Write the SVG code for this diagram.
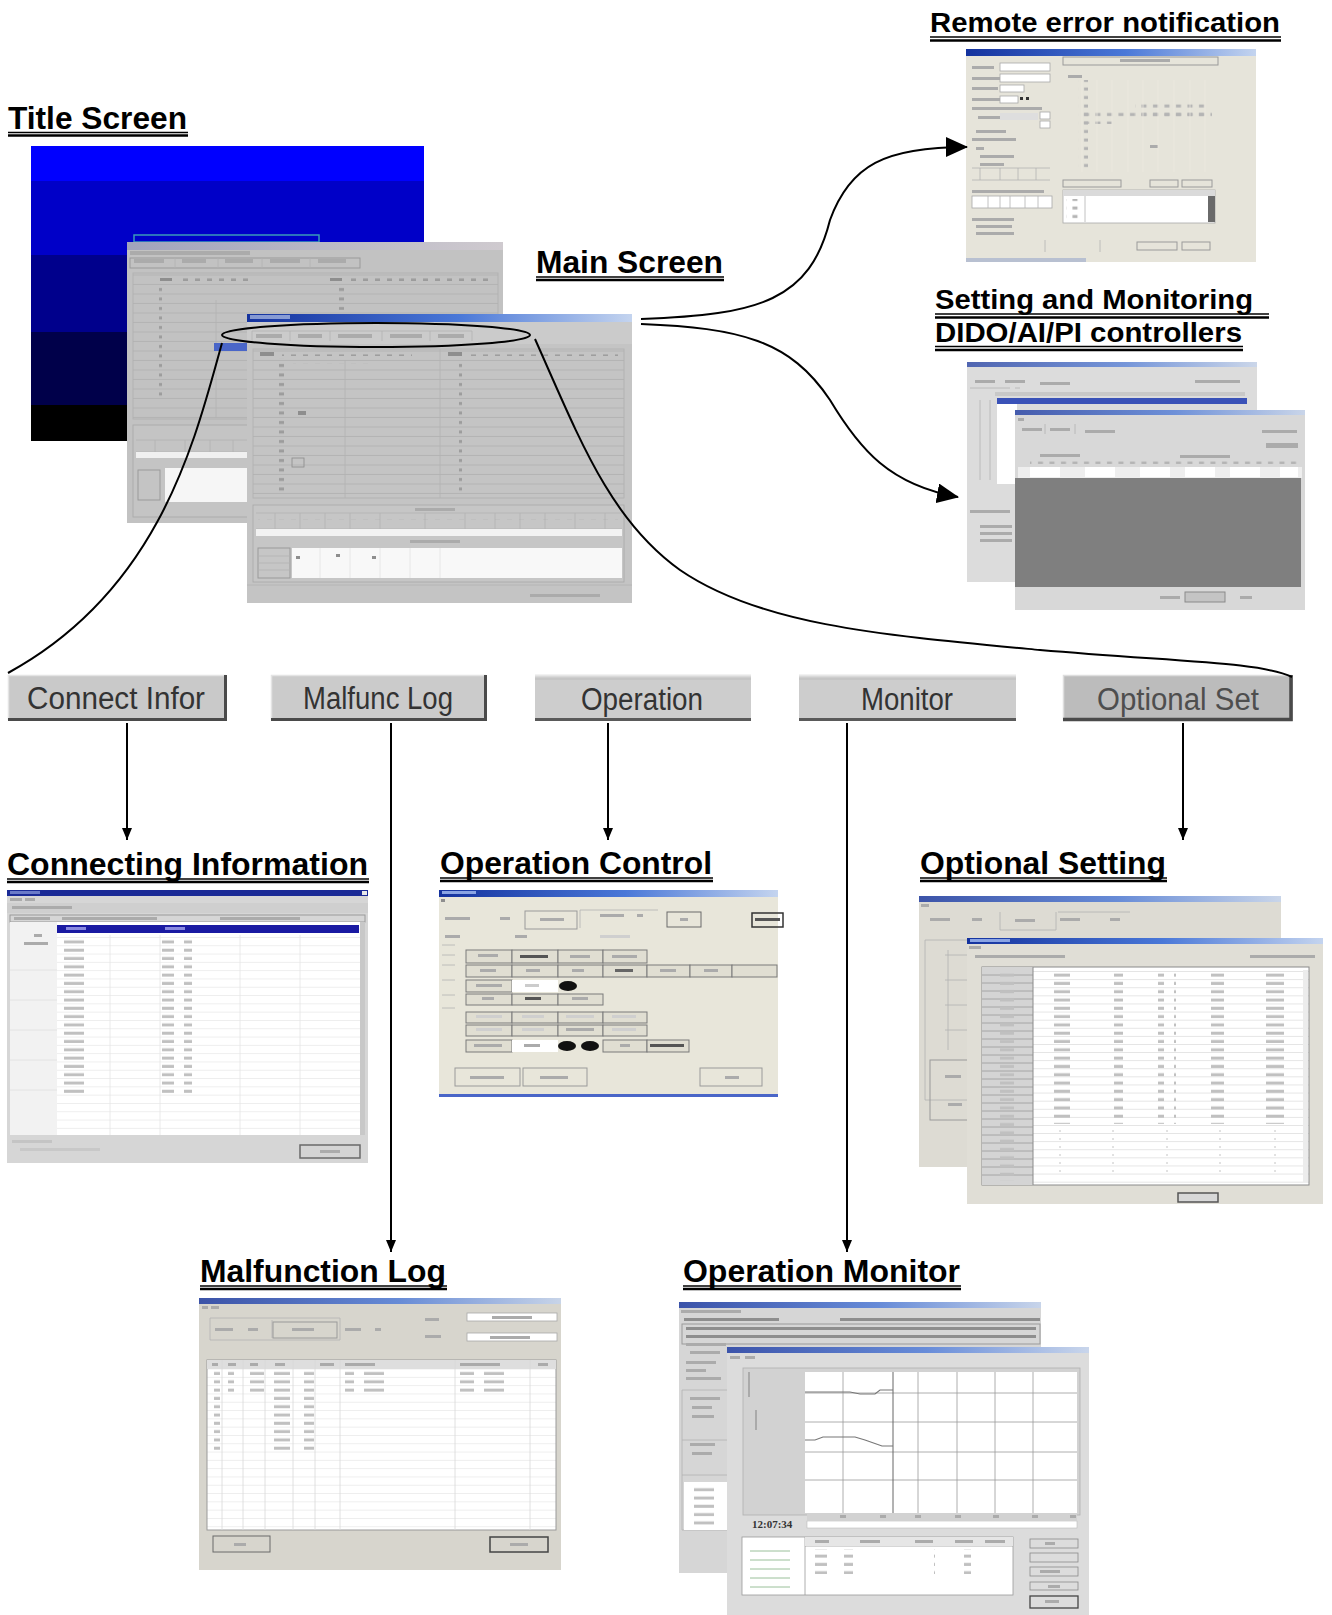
<svg xmlns="http://www.w3.org/2000/svg" width="1332" height="1615" viewBox="0 0 1332 1615">
<defs>
<style>
.h{font-family:"Liberation Sans",Arial,sans-serif;font-weight:bold;font-size:31px;fill:#000}
.hs{font-family:"Liberation Sans",Arial,sans-serif;font-weight:bold;font-size:27px;fill:#000}
.u1{stroke:#000;stroke-width:1.3}
.u2{stroke:#000;stroke-width:2.4}
.bt{font-family:"Liberation Sans",Arial,sans-serif;font-size:31px;fill:#333}
.con{fill:none;stroke:#000;stroke-width:2}
.m{fill:#8e8e8e}
.ml{fill:#ababab}
.ln{stroke:#b2b2b2;stroke-width:0.8;fill:none}
.bx{fill:none;stroke:#9a9a9a;stroke-width:1}
.wb{fill:#fff;stroke:#a8a8a8;stroke-width:0.8}
.tm{font-family:"Liberation Serif","Times New Roman",serif;font-weight:bold;font-size:11px;fill:#333}
</style>
<linearGradient id="tb" x1="0" x2="1" y1="0" y2="0"><stop offset="0" stop-color="#14329e"/><stop offset="0.55" stop-color="#4a78d8"/><stop offset="1" stop-color="#c4d4ef"/></linearGradient>
<linearGradient id="tbf" x1="0" x2="1" y1="0" y2="0"><stop offset="0" stop-color="#8a8fb8"/><stop offset="1" stop-color="#d8d0d8"/></linearGradient>
<pattern id="hl" width="20" height="9.5" patternUnits="userSpaceOnUse"><path d="M0 9H20" stroke="#b0b0b0" stroke-width="0.8"/></pattern>
<pattern id="dt" width="12" height="9.5" patternUnits="userSpaceOnUse"><rect x="3" y="3" width="5" height="3" fill="#9c9c9c"/></pattern>
<pattern id="dtw" width="11.5" height="8.5" patternUnits="userSpaceOnUse"><rect x="3" y="2.5" width="5" height="3" fill="#b4b4b4"/></pattern>
<pattern id="wr" width="40" height="8.3" patternUnits="userSpaceOnUse"><rect width="40" height="8.3" fill="#fff"/><path d="M0 8H40" stroke="#e4e4e4" stroke-width="0.8"/></pattern>
<pattern id="wr2" width="40" height="8.1" patternUnits="userSpaceOnUse"><rect width="40" height="8.1" fill="#fff"/><path d="M0 7.8H40" stroke="#d8d8d8" stroke-width="0.8"/></pattern>
<pattern id="cm" width="30" height="8.3" patternUnits="userSpaceOnUse"><rect x="4" y="2.5" width="20" height="3" fill="#c0c0c0"/></pattern>
<marker id="ab" viewBox="0 0 22 20" refX="21" refY="10" markerWidth="22" markerHeight="20" markerUnits="userSpaceOnUse" orient="auto"><path d="M0,0L22,10L0,20z" fill="#000"/></marker>
<marker id="as" viewBox="0 0 12 10" refX="12" refY="5" markerWidth="12" markerHeight="10" markerUnits="userSpaceOnUse" orient="auto"><path d="M0,0L12,5L0,10z" fill="#000"/></marker>
</defs>
<rect width="1332" height="1615" fill="#fff"/>

<!-- Title screen -->
<g id="title-screen">
<text class="h" x="8" y="129" textLength="179" lengthAdjust="spacingAndGlyphs">Title Screen</text>
<line class="u1" x1="8" y1="132.5" x2="188" y2="132.5"/><line class="u2" x1="8" y1="135.5" x2="188" y2="135.5"/>
<rect x="31" y="146" width="393" height="36" fill="#0000ff"/>
<rect x="31" y="181" width="393" height="75" fill="#0000c8"/>
<rect x="31" y="255" width="393" height="78" fill="#00008c"/>
<rect x="31" y="332" width="393" height="74" fill="#00004a"/>
<rect x="31" y="405" width="393" height="36" fill="#000"/>
<rect x="134" y="235" width="185" height="7" fill="none" stroke="#3a9ab8" stroke-width="1.5"/>
</g>

<!-- Main screen (back window + front window) -->
<g id="main-screen">
<text class="h" x="536" y="273" textLength="187" lengthAdjust="spacingAndGlyphs">Main Screen</text>
<line class="u1" x1="536" y1="277" x2="724" y2="277"/><line class="u2" x1="536" y1="280" x2="724" y2="280"/>
<!-- back window -->
<rect x="127" y="242" width="376" height="281" fill="#c2c2c2"/>
<rect x="127" y="242" width="376" height="8" fill="url(#tbf)" opacity="0.6"/>
<rect x="130" y="251" width="120" height="4" class="ml"/>
<rect x="130" y="258" width="230" height="10" fill="#cacaca" class="bx"/>
<path d="M175 258V268M218 258V268M262 258V268M310 258V268" class="ln"/>
<rect x="134" y="259" width="30" height="4" class="ml"/><rect x="182" y="259" width="24" height="4" class="ml"/><rect x="225" y="259" width="28" height="4" class="ml"/><rect x="270" y="259" width="30" height="4" class="ml"/><rect x="318" y="259" width="28" height="4" class="ml"/>
<rect x="133" y="273" width="365" height="146" fill="url(#hl)" stroke="#b0b0b0" stroke-width="0.8"/>
<rect x="160" y="278" width="12" height="3" class="m"/><rect x="176" y="278" width="72" height="3" fill="url(#dt)"/>
<rect x="330" y="278" width="12" height="3" class="m"/><rect x="345" y="278" width="150" height="3" fill="url(#dt)"/>
<rect x="152" y="285" width="10" height="115" fill="url(#dt)"/>
<rect x="337" y="285" width="10" height="25" fill="url(#dt)"/>
<path d="M216 300V418" class="ln"/>
<rect x="133" y="425" width="365" height="92" fill="#c4c4c4" stroke="#a8a8a8" stroke-width="0.8"/>
<path d="M136 440H247M136 452H247M155 440V456M185 440V456M210 440V456M233 440V456" class="ln"/>
<rect x="136" y="452" width="111" height="6" fill="#f0f0f0"/>
<rect x="165" y="468" width="82" height="34" fill="#f6f6f6"/>
<rect x="138" y="470" width="22" height="30" fill="#bdbdbd" class="bx"/>
<rect x="214" y="343" width="33" height="8" fill="#4a66c8"/>
<!-- front window -->
<rect x="247" y="314" width="385" height="289" fill="#c4c4c4"/>
<rect x="247" y="314" width="385" height="8" fill="url(#tb)"/>
<rect x="250" y="315" width="40" height="4" fill="#d0dcf4" opacity="0.6"/>
<rect x="247" y="322" width="385" height="22" fill="#cbcbcb"/>
<path d="M252 341V331H472V341M290 331V341M330 331V341M382 331V341M430 331V341" class="ln"/>
<rect x="256" y="334" width="26" height="4" class="ml"/><rect x="298" y="334" width="24" height="4" class="ml"/><rect x="338" y="334" width="34" height="4" class="ml"/><rect x="390" y="334" width="32" height="4" class="ml"/><rect x="438" y="334" width="26" height="4" class="ml"/>
<rect x="253" y="349" width="371" height="149" fill="url(#hl)" stroke="#b0b0b0" stroke-width="0.8"/>
<path d="M440 349V498M345 360V498" class="ln"/>
<rect x="260" y="352" width="14" height="4" class="m"/><rect x="282" y="352" width="130" height="4" fill="url(#dt)"/>
<rect x="448" y="352" width="14" height="4" class="m"/><rect x="468" y="352" width="150" height="4" fill="url(#dt)"/>
<rect x="278" y="358" width="10" height="135" fill="url(#dt)"/>
<rect x="452" y="358" width="10" height="135" fill="url(#dt)"/>
<rect x="293" y="360" width="80" height="4" fill="url(#dt)"/>
<rect x="298" y="411" width="8" height="4" class="m"/>
<rect x="292" y="458" width="12" height="9" fill="none" stroke="#8a8a8a" stroke-width="0.8"/>
<rect x="253" y="505" width="371" height="77" fill="#c6c6c6" stroke="#a8a8a8" stroke-width="0.8"/>
<rect x="415" y="508" width="40" height="3" class="ml"/>
<path d="M256 513H622M256 529H622M275 513V529M300 513V529M325 513V529M350 513V529M380 513V529M425 513V529M465 513V529M495 513V529M520 513V529M545 513V529M575 513V529M605 513V529" class="ln"/>
<rect x="258" y="519" width="360" height="3" fill="url(#dt)" opacity="0.7"/>
<rect x="256" y="529" width="366" height="7" fill="#f2f2f2"/>
<rect x="410" y="540" width="50" height="3" class="ml"/>
<rect x="292" y="548" width="330" height="30" fill="#f8f8f8"/>
<path d="M320 548V578M350 548V578M380 548V578M410 548V578M440 548V578" stroke="#e2e2e2" stroke-width="0.8"/>
<rect x="258" y="548" width="32" height="30" fill="#bcbcbc" class="bx"/>
<path d="M258 556H290M258 563H290M258 570H290" class="ln"/>
<rect x="296" y="556" width="4" height="3" class="m"/><rect x="336" y="554" width="4" height="3" class="m"/><rect x="372" y="556" width="4" height="3" class="m"/>
<path d="M247 585H632" class="ln"/>
<rect x="530" y="594" width="70" height="3" class="ml"/>
</g>

<!-- Remote error notification -->
<g id="remote-error">
<text class="hs" x="930" y="32" textLength="350" lengthAdjust="spacingAndGlyphs">Remote error notification</text>
<line class="u1" x1="930" y1="37" x2="1281" y2="37"/><line class="u2" x1="930" y1="40.5" x2="1281" y2="40.5"/>
<rect x="966" y="49" width="290" height="213" fill="#e6e4da"/>
<rect x="966" y="49" width="290" height="7" fill="url(#tb)"/>
<rect x="972" y="66" width="22" height="3" class="ml"/><rect x="972" y="77" width="28" height="3" class="ml"/><rect x="972" y="87" width="26" height="3" class="ml"/><rect x="972" y="98" width="28" height="3" class="ml"/>
<rect x="1000" y="63" width="50" height="8" class="wb"/><rect x="1000" y="74" width="50" height="8" class="wb"/>
<rect x="1000" y="85" width="24" height="7" class="wb"/><rect x="1000" y="96" width="18" height="7" class="wb"/>
<rect x="1020" y="97" width="3" height="3" fill="#333"/><rect x="1026" y="97" width="3" height="3" fill="#333"/>
<rect x="972" y="107" width="70" height="3" class="ml"/><rect x="978" y="116" width="24" height="3" class="ml"/>
<rect x="1000" y="113" width="38" height="7" fill="#dedede"/><rect x="1040" y="112" width="10" height="7" class="wb"/><rect x="1040" y="121" width="10" height="7" class="wb"/>
<rect x="976" y="130" width="30" height="3" class="ml"/><rect x="972" y="138" width="44" height="3" class="ml"/>
<rect x="976" y="147" width="8" height="3" class="ml"/><rect x="980" y="155" width="34" height="3" class="ml"/><rect x="980" y="163" width="24" height="3" class="ml"/>
<path d="M972 168H1050M972 180H1050M980 168V180M1000 168V180M1018 168V180M1036 168V180" class="ln"/>
<rect x="972" y="190" width="72" height="3" class="ml"/>
<rect x="972" y="196" width="80" height="12" class="wb"/>
<path d="M988 196V208M1000 196V208M1010 196V208M1025 196V208M1038 196V208" class="ln"/>
<rect x="972" y="218" width="42" height="3" class="ml"/><rect x="976" y="225" width="36" height="3" class="ml"/><rect x="976" y="232" width="38" height="3" class="ml"/>
<rect x="1063" y="57" width="155" height="8" fill="none" class="bx"/>
<rect x="1120" y="59" width="50" height="3" class="ml"/>
<rect x="1068" y="75" width="14" height="3" class="ml"/><rect x="1082" y="75" width="130" height="3" fill="url(#dtw)"/>
<rect x="1078" y="80" width="10" height="90" fill="url(#dtw)"/>
<rect x="1135" y="100" width="75" height="17" fill="url(#dtw)"/>
<rect x="1082" y="110" width="130" height="8" fill="url(#dtw)"/>
<rect x="1082" y="120" width="30" height="4" fill="url(#dtw)"/>
<rect x="1150" y="145" width="8" height="3" class="ml"/>
<path d="M1082 80V172M1097 80V172M1112 80V172M1128 80V172M1143 80V172M1158 80V172M1174 80V172M1190 80V172M1205 80V172" stroke="#ece9e0" stroke-width="0.8"/>
<rect x="1063" y="180" width="58" height="7" class="bx"/><rect x="1150" y="180" width="28" height="7" class="bx"/><rect x="1182" y="180" width="30" height="7" class="bx"/>
<rect x="1063" y="190" width="152" height="33" class="wb"/>
<rect x="1063" y="190" width="152" height="6" fill="#dadada"/>
<rect x="1066" y="199" width="16" height="20" fill="url(#dtw)"/>
<rect x="1208" y="196" width="7" height="26" fill="#6a6a6a"/>
<path d="M1085 196V222" class="ln"/>
<rect x="1137" y="242" width="40" height="8" class="bx"/><rect x="1182" y="242" width="28" height="8" class="bx"/>
<path d="M1100 240V252M1045 240V252" class="ln"/>
<rect x="966" y="258" width="120" height="4" fill="#9aa8cc" opacity="0.6"/>
</g>

<!-- Setting and Monitoring DIDO/AI/PI controllers -->
<g id="dido-ai-pi">
<text class="hs" x="935" y="309" font-size="26" textLength="318" lengthAdjust="spacingAndGlyphs">Setting and Monitoring</text>
<line class="u1" x1="935" y1="314" x2="1269" y2="314"/><line class="u2" x1="935" y1="317.5" x2="1269" y2="317.5"/>
<text class="hs" x="935" y="342" font-size="26" textLength="307" lengthAdjust="spacingAndGlyphs">DIDO/AI/PI controllers</text>
<line class="u1" x1="935" y1="346.5" x2="1243" y2="346.5"/><line class="u2" x1="935" y1="350" x2="1243" y2="350"/>
<rect x="967" y="362" width="290" height="220" fill="#dcdcdc"/>
<rect x="967" y="362" width="290" height="5" fill="url(#tb)" opacity="0.7"/>
<rect x="975" y="380" width="20" height="3" class="ml"/><rect x="1005" y="380" width="20" height="3" class="ml"/><rect x="1040" y="382" width="30" height="3" class="ml"/><rect x="1195" y="380" width="45" height="3" class="ml"/>
<path d="M970 388H1010M1015 388H1020" class="ln"/>
<rect x="995" y="392" width="250" height="4" fill="#c8c8c8"/>
<rect x="997" y="398" width="250" height="6" fill="#3a52b8"/>
<rect x="997" y="404" width="20" height="80" fill="#fff"/>
<path d="M980 400V480M990 400V480" class="ln"/>
<rect x="970" y="510" width="40" height="3" class="ml"/><rect x="980" y="525" width="32" height="3" class="ml"/><rect x="980" y="532" width="32" height="3" class="ml"/><rect x="980" y="539" width="32" height="3" class="ml"/>
<rect x="1015" y="410" width="290" height="200" fill="#d8d8d8"/>
<rect x="1015" y="410" width="290" height="5" fill="url(#tb)" opacity="0.75"/>
<rect x="1018" y="418" width="6" height="3" class="ml"/>
<rect x="1022" y="428" width="20" height="3" class="ml"/><rect x="1050" y="428" width="20" height="3" class="ml"/><rect x="1085" y="430" width="30" height="3" class="ml"/><rect x="1262" y="430" width="35" height="3" class="ml"/>
<path d="M1045 424V434M1075 424V434" class="ln"/>
<rect x="1266" y="443" width="32" height="5" class="ml"/>
<rect x="1040" y="454" width="40" height="3" class="ml"/><rect x="1180" y="455" width="50" height="3" class="ml"/>
<rect x="1030" y="461" width="270" height="3" fill="url(#dtw)"/>
<rect x="1018" y="467" width="284" height="11" fill="#eeeeee"/>
<rect x="1030" y="467" width="30" height="10" fill="#fff"/><rect x="1085" y="467" width="30" height="10" fill="#fff"/><rect x="1140" y="467" width="30" height="10" fill="#fff"/><rect x="1185" y="467" width="30" height="10" fill="#fff"/><rect x="1230" y="467" width="30" height="10" fill="#fff"/><rect x="1280" y="467" width="18" height="10" fill="#fff"/>
<rect x="1015" y="478" width="286" height="109" fill="#7f7f7f"/>
<rect x="1185" y="592" width="40" height="10" fill="#c4c4c4" stroke="#8a8a8a" stroke-width="1"/>
<rect x="1160" y="596" width="20" height="3" class="ml"/><rect x="1240" y="596" width="12" height="3" class="ml"/>
</g>

<!-- Buttons row -->
<g id="btn-connect-infor">
<rect x="8" y="675" width="219" height="46" fill="#c9c9c9"/>
<path d="M8.5 720V675.5H226" stroke="#e4e4e4" stroke-width="1.5" fill="none"/>
<path d="M8 719.5H225.5V675" stroke="#4a4a4a" stroke-width="3" fill="none"/>
<text class="bt" x="116" y="709" text-anchor="middle" textLength="178" lengthAdjust="spacingAndGlyphs">Connect Infor</text>
</g>
<g id="btn-malfunc-log">
<rect x="271" y="675" width="216" height="46" fill="#cbcbcb"/>
<path d="M271.5 720V675.5H486" stroke="#e4e4e4" stroke-width="1.5" fill="none"/>
<path d="M271 719.5H485.5V675" stroke="#4a4a4a" stroke-width="3" fill="none"/>
<text class="bt" x="378" y="709" text-anchor="middle" textLength="150" lengthAdjust="spacingAndGlyphs">Malfunc Log</text>
</g>
<g id="btn-operation">
<rect x="535" y="675" width="216" height="46" fill="#cdcdcd"/>
<path d="M535 675.5H751" stroke="#e6e6e6" stroke-width="2" fill="none"/>
<path d="M535 679H751" stroke="#bdbdbd" stroke-width="1" fill="none"/>
<path d="M535 719.5H751" stroke="#5a5a5a" stroke-width="3" fill="none"/>
<text class="bt" x="642" y="710" text-anchor="middle" textLength="122" lengthAdjust="spacingAndGlyphs">Operation</text>
</g>
<g id="btn-monitor">
<rect x="799" y="675" width="217" height="46" fill="#cdcdcd"/>
<path d="M799 675.5H1016" stroke="#e6e6e6" stroke-width="2" fill="none"/>
<path d="M799 679H1016" stroke="#bdbdbd" stroke-width="1" fill="none"/>
<path d="M799 719.5H1016" stroke="#5a5a5a" stroke-width="3" fill="none"/>
<text class="bt" x="907" y="710" text-anchor="middle" textLength="92" lengthAdjust="spacingAndGlyphs">Monitor</text>
</g>
<g id="btn-optional-set">
<rect x="1063" y="675" width="230" height="46" fill="#bcbcbc"/>
<path d="M1063.5 720V675.5H1292" stroke="#dedede" stroke-width="1.5" fill="none"/>
<path d="M1063 719.5H1291V675" stroke="#4a4a4a" stroke-width="3.5" fill="none"/>
<text class="bt" x="1178" y="710" text-anchor="middle" textLength="162" lengthAdjust="spacingAndGlyphs" style="fill:#4e4e4e">Optional Set</text>
</g>

<!-- Connecting Information -->
<g id="connecting-information">
<text class="h" x="7" y="875" textLength="361" lengthAdjust="spacingAndGlyphs">Connecting Information</text>
<line class="u1" x1="7" y1="879" x2="369" y2="879"/><line class="u2" x1="7" y1="882" x2="369" y2="882"/>
<rect x="7" y="890" width="361" height="273" fill="#d6d6d6"/>
<rect x="7" y="890" width="361" height="6" fill="#1a2a96"/>
<rect x="10" y="891" width="30" height="3" fill="#6a7ac8"/>
<rect x="362" y="891" width="5" height="4" fill="#e8e8e8"/>
<rect x="10" y="898" width="12" height="3" class="ml"/><rect x="25" y="898" width="10" height="3" class="ml"/>
<rect x="7" y="903" width="361" height="10" fill="#cfcfcf"/>
<rect x="12" y="906" width="60" height="3" class="ml"/>
<rect x="10" y="915" width="355" height="7" fill="#d0d0d0" class="bx"/>
<rect x="14" y="917" width="36" height="3" class="ml"/><rect x="62" y="917" width="95" height="3" class="ml"/><rect x="220" y="917" width="80" height="3" class="ml"/>
<rect x="10" y="922" width="47" height="213" fill="#f2f2f2"/>
<rect x="34" y="934" width="8" height="3" class="ml"/><rect x="24" y="942" width="24" height="3" class="ml"/>
<path d="M10 970H57M10 1000H57M10 1030H57M10 1060H57M10 1090H57" stroke="#e0e0e0" stroke-width="0.8"/>
<rect x="57" y="922" width="305" height="213" fill="url(#wr)"/>
<path d="M110 935V1135M160 935V1135M240 935V1135M300 935V1135" stroke="#e4e4e4" stroke-width="0.8"/>
<rect x="57" y="925" width="302" height="8" fill="#1a1aa2"/>
<rect x="66" y="927" width="20" height="3" fill="#8a8ae0"/><rect x="165" y="927" width="20" height="3" fill="#8a8ae0"/>
<rect x="64" y="936" width="30" height="158" fill="url(#cm)"/>
<rect x="162" y="936" width="30" height="158" fill="url(#cm)"/>
<rect x="360" y="922" width="5" height="213" fill="#c8c8c8"/>
<rect x="300" y="1145" width="60" height="13" fill="#d4d4d4" stroke="#6a6a6a" stroke-width="1.5"/>
<rect x="320" y="1150" width="20" height="3" class="ml"/>
<rect x="12" y="1140" width="40" height="3" fill="#c4c4c4"/><rect x="20" y="1148" width="80" height="3" fill="#c8c8c8"/>
</g>

<!-- Operation Control -->
<g id="operation-control">
<text class="h" x="440" y="874" textLength="272" lengthAdjust="spacingAndGlyphs">Operation Control</text>
<line class="u1" x1="440" y1="878" x2="713" y2="878"/><line class="u2" x1="440" y1="881" x2="713" y2="881"/>
<rect x="439" y="890" width="339" height="207" fill="#e8e6da"/>
<rect x="439" y="890" width="339" height="7" fill="url(#tb)"/>
<rect x="442" y="891" width="34" height="3" fill="#8aa4e4"/>
<rect x="441" y="899" width="4" height="3" class="m"/>
<rect x="445" y="917" width="25" height="3" class="ml"/><rect x="500" y="917" width="10" height="3" class="ml"/>
<rect x="525" y="911" width="52" height="18" fill="none" class="bx"/><rect x="540" y="918" width="24" height="3" class="ml"/>
<path d="M580 910H658M580 910V928" class="ln"/>
<rect x="600" y="914" width="24" height="3" class="ml"/><rect x="637" y="914" width="6" height="3" class="ml"/>
<rect x="667" y="912" width="34" height="15" fill="none" stroke="#6a6a6a" stroke-width="1"/><rect x="680" y="918" width="8" height="3" class="ml"/>
<rect x="752" y="913" width="31" height="14" fill="none" stroke="#333" stroke-width="1.5"/><rect x="755" y="918" width="25" height="3" fill="#555"/>
<rect x="445" y="935" width="15" height="3" class="ml"/><rect x="515" y="935" width="12" height="3" class="ml"/><rect x="600" y="935" width="30" height="3" fill="#cfcfcf"/>
<path d="M442 945H455M442 955H455M442 965H455M442 980H455M442 995H455M442 1008H455" class="ln"/>
<g fill="#e0ded2" stroke="#7a7a7a" stroke-width="1">
<rect x="466" y="950" width="46" height="13"/><rect x="512" y="950" width="46" height="13"/><rect x="558" y="950" width="45" height="13"/><rect x="603" y="950" width="44" height="13"/>
<rect x="466" y="965" width="46" height="12"/><rect x="512" y="965" width="46" height="12"/><rect x="558" y="965" width="45" height="12"/><rect x="603" y="965" width="44" height="12"/><rect x="647" y="965" width="43" height="12"/><rect x="690" y="965" width="42" height="12"/><rect x="732" y="965" width="45" height="12"/>
<rect x="466" y="980" width="46" height="12"/><rect x="466" y="994" width="46" height="11"/><rect x="512" y="994" width="46" height="11"/><rect x="558" y="994" width="45" height="11"/>
<rect x="466" y="1012" width="46" height="11"/><rect x="512" y="1012" width="46" height="11"/><rect x="558" y="1012" width="45" height="11"/><rect x="603" y="1012" width="44" height="11"/>
<rect x="466" y="1025" width="46" height="11"/><rect x="512" y="1025" width="46" height="11"/><rect x="558" y="1025" width="45" height="11"/><rect x="603" y="1025" width="44" height="11"/>
<rect x="466" y="1040" width="46" height="12"/><rect x="603" y="1040" width="44" height="12"/><rect x="647" y="1040" width="42" height="12"/>
</g>
<rect x="512" y="980" width="46" height="12" fill="#fff"/><rect x="512" y="1040" width="46" height="12" fill="#fff"/>
<ellipse cx="568" cy="986" rx="9" ry="5" fill="#111"/><ellipse cx="567" cy="1046" rx="9" ry="5" fill="#111"/><ellipse cx="590" cy="1046" rx="9" ry="5" fill="#111"/>
<rect x="478" y="954" width="20" height="3" class="ml"/><rect x="520" y="955" width="28" height="3" fill="#555"/><rect x="570" y="955" width="20" height="3" class="ml"/><rect x="612" y="955" width="25" height="3" class="ml"/>
<rect x="480" y="969" width="16" height="3" class="ml"/><rect x="526" y="969" width="14" height="3" class="ml"/><rect x="572" y="969" width="12" height="3" class="ml"/><rect x="615" y="969" width="18" height="3" fill="#666"/><rect x="660" y="969" width="16" height="3" class="ml"/><rect x="704" y="969" width="14" height="3" class="ml"/>
<rect x="476" y="984" width="26" height="3" class="ml"/><rect x="525" y="984" width="14" height="3" fill="#ccc"/>
<rect x="482" y="997" width="12" height="3" class="ml"/><rect x="525" y="997" width="16" height="3" fill="#555"/><rect x="572" y="997" width="16" height="3" class="ml"/>
<rect x="476" y="1015" width="26" height="3" fill="#cfcfcf"/><rect x="522" y="1015" width="22" height="3" fill="#cfcfcf"/><rect x="566" y="1015" width="28" height="3" fill="#cfcfcf"/><rect x="612" y="1015" width="24" height="3" fill="#cfcfcf"/>
<rect x="476" y="1028" width="26" height="3" fill="#cfcfcf"/><rect x="522" y="1028" width="22" height="3" fill="#cfcfcf"/><rect x="566" y="1028" width="28" height="3" class="ml"/><rect x="612" y="1028" width="24" height="3" fill="#cfcfcf"/>
<rect x="474" y="1044" width="28" height="3" class="ml"/><rect x="524" y="1044" width="16" height="3" class="ml"/><rect x="620" y="1044" width="10" height="3" class="ml"/><rect x="650" y="1044" width="34" height="3" fill="#555"/>
<rect x="455" y="1068" width="65" height="18" fill="none" class="bx"/><rect x="523" y="1068" width="64" height="18" fill="none" class="bx"/><rect x="700" y="1068" width="62" height="18" fill="none" class="bx"/>
<rect x="470" y="1076" width="34" height="3" class="ml"/><rect x="540" y="1076" width="28" height="3" class="ml"/><rect x="725" y="1076" width="14" height="3" class="ml"/>
<rect x="439" y="1094" width="339" height="3" fill="#4a66c8"/>
</g>

<!-- Optional Setting -->
<g id="optional-setting">
<text class="h" x="920" y="874" textLength="246" lengthAdjust="spacingAndGlyphs">Optional Setting</text>
<line class="u1" x1="920" y1="878" x2="1167" y2="878"/><line class="u2" x1="920" y1="881" x2="1167" y2="881"/>
<rect x="919" y="896" width="362" height="271" fill="#dddbd3"/>
<rect x="919" y="896" width="362" height="6" fill="url(#tb)" opacity="0.8"/>
<rect x="921" y="904" width="8" height="3" class="ml"/>
<rect x="930" y="918" width="20" height="3" class="ml"/><rect x="972" y="918" width="10" height="3" class="ml"/><rect x="1015" y="919" width="20" height="3" class="ml"/><rect x="1060" y="918" width="20" height="3" class="ml"/><rect x="1110" y="918" width="10" height="3" class="ml"/>
<path d="M1000 912V930H1056V912M1058 912H1130" class="ln"/>
<path d="M925 940H1275V1100H925ZM948 950V1050M945 955H967M945 980H967M945 1005H967M945 1030H967" class="ln"/>
<rect x="930" y="1060" width="40" height="60" fill="none" class="bx"/>
<rect x="945" y="1075" width="16" height="3" class="ml"/><rect x="948" y="1103" width="14" height="3" class="ml"/>
<rect x="967" y="938" width="356" height="266" fill="#e0ded6"/>
<rect x="967" y="938" width="356" height="6" fill="url(#tb)"/>
<rect x="970" y="939" width="40" height="3" fill="#8aa4e4"/>
<rect x="969" y="946" width="12" height="3" class="ml"/>
<rect x="975" y="955" width="90" height="3" class="ml"/><rect x="1250" y="955" width="65" height="3" class="ml"/>
<rect x="982" y="967" width="327" height="218" fill="url(#wr2)" stroke="#8a8a8a" stroke-width="1"/>
<rect x="982" y="967" width="51" height="218" fill="#d4d4d4"/>
<path d="M982 975H1033M982 983H1033M982 991H1033M982 999H1033M982 1007H1033M982 1015H1033M982 1023H1033M982 1031H1033M982 1039H1033M982 1047H1033M982 1055H1033M982 1063H1033M982 1071H1033M982 1079H1033M982 1087H1033M982 1095H1033M982 1103H1033M982 1111H1033M982 1119H1033M982 1127H1033M982 1135H1033M982 1143H1033M982 1151H1033M982 1159H1033M982 1167H1033M982 1175H1033" stroke="#9a9a9a" stroke-width="0.8"/>
<path d="M1033 967V1185" stroke="#8a8a8a" stroke-width="1"/>
<rect x="1000" y="969" width="24" height="212" fill="url(#cm)"/>
<rect x="1052" y="969" width="18" height="155" fill="url(#cm)"/>
<rect x="1105" y="969" width="18" height="155" fill="url(#cm)"/>
<rect x="1158" y="969" width="18" height="155" fill="url(#cm)"/>
<rect x="1211" y="969" width="18" height="155" fill="url(#cm)"/>
<rect x="1266" y="969" width="18" height="155" fill="url(#cm)"/>
<path d="M1060 1130V1175M1113 1130V1175M1167 1130V1175M1220 1130V1175M1275 1130V1175" stroke="#c4c4c4" stroke-width="1" stroke-dasharray="2 6"/>
<rect x="1303" y="970" width="5" height="212" fill="#ececec"/>
<rect x="1178" y="1193" width="40" height="9" fill="#d8d8d8" stroke="#555" stroke-width="1.5"/>
</g>

<!-- Malfunction Log -->
<g id="malfunction-log">
<text class="h" x="200" y="1282" textLength="246" lengthAdjust="spacingAndGlyphs">Malfunction Log</text>
<line class="u1" x1="200" y1="1286" x2="447" y2="1286"/><line class="u2" x1="200" y1="1289" x2="447" y2="1289"/>
<rect x="199" y="1298" width="362" height="272" fill="#d7d5cd"/>
<rect x="199" y="1298" width="362" height="6" fill="url(#tb)" opacity="0.8"/>
<rect x="202" y="1306" width="6" height="3" class="ml"/><rect x="211" y="1306" width="8" height="3" class="ml"/>
<path d="M210 1318H340V1340H210ZM272 1320V1338" class="ln"/>
<rect x="215" y="1328" width="18" height="3" class="ml"/><rect x="248" y="1328" width="10" height="3" class="ml"/>
<rect x="273" y="1322" width="64" height="16" fill="none" class="bx"/><rect x="292" y="1328" width="22" height="3" class="ml"/>
<rect x="345" y="1328" width="16" height="3" class="ml"/><rect x="375" y="1328" width="6" height="3" class="ml"/>
<rect x="425" y="1318" width="14" height="3" class="ml"/><rect x="425" y="1335" width="16" height="3" class="ml"/>
<rect x="467" y="1313" width="90" height="8" class="wb"/><rect x="467" y="1333" width="90" height="8" class="wb"/>
<rect x="492" y="1316" width="40" height="3" class="ml"/><rect x="490" y="1336" width="40" height="3" class="ml"/>
<rect x="207" y="1360" width="349" height="170" fill="url(#wr)" stroke="#9a9a9a" stroke-width="1"/>
<rect x="207" y="1360" width="349" height="9" fill="#dedede"/>
<path d="M222 1360V1530M243 1360V1530M265 1360V1530M293 1360V1530M315 1360V1530M340 1360V1530M455 1360V1530M530 1360V1530" stroke="#d8d8d8" stroke-width="0.8"/>
<rect x="212" y="1363" width="6" height="3" class="ml"/><rect x="228" y="1363" width="8" height="3" class="ml"/><rect x="250" y="1363" width="8" height="3" class="ml"/><rect x="275" y="1363" width="10" height="3" class="ml"/><rect x="320" y="1363" width="14" height="3" class="ml"/><rect x="345" y="1363" width="30" height="3" class="ml"/><rect x="460" y="1363" width="40" height="3" class="ml"/><rect x="538" y="1363" width="10" height="3" class="ml"/>
<rect x="210" y="1371" width="10" height="83" fill="url(#cm)"/>
<rect x="228" y="1371" width="14" height="25" fill="url(#cm)"/><rect x="250" y="1371" width="14" height="25" fill="url(#cm)"/>
<rect x="274" y="1371" width="16" height="83" fill="url(#cm)"/><rect x="300" y="1371" width="14" height="83" fill="url(#cm)"/>
<rect x="345" y="1371" width="40" height="25" fill="url(#cm)"/><rect x="460" y="1371" width="45" height="25" fill="url(#cm)"/>
<rect x="213" y="1536" width="57" height="16" fill="none" stroke="#6a6a6a" stroke-width="1"/><rect x="234" y="1543" width="12" height="3" class="ml"/>
<rect x="490" y="1537" width="58" height="15" fill="none" stroke="#444" stroke-width="1.5"/><rect x="510" y="1543" width="18" height="3" class="ml"/>
</g>

<!-- Operation Monitor -->
<g id="operation-monitor">
<text class="h" x="683" y="1282" textLength="277" lengthAdjust="spacingAndGlyphs">Operation Monitor</text>
<line class="u1" x1="683" y1="1286" x2="961" y2="1286"/><line class="u2" x1="683" y1="1289" x2="961" y2="1289"/>
<rect x="679" y="1302" width="362" height="271" fill="#d6d6d6"/>
<rect x="679" y="1302" width="362" height="6" fill="url(#tb)" opacity="0.8"/>
<rect x="681" y="1310" width="60" height="3" class="ml"/>
<rect x="684" y="1318" width="95" height="3" class="m"/><rect x="840" y="1318" width="200" height="3" class="m"/>
<rect x="682" y="1324" width="358" height="20" fill="none" class="bx"/>
<rect x="686" y="1327" width="350" height="3" class="m"/><rect x="686" y="1335" width="350" height="3" class="m"/>
<rect x="686" y="1343" width="40" height="3" class="ml"/><rect x="690" y="1351" width="30" height="3" class="ml"/>
<rect x="686" y="1361" width="30" height="3" class="ml"/><rect x="686" y="1369" width="20" height="3" class="ml"/><rect x="686" y="1377" width="35" height="3" class="ml"/>
<path d="M682 1390H727M682 1440H727M682 1475H727M682 1530H727M682 1390V1530" class="ln"/>
<rect x="690" y="1397" width="30" height="3" class="ml"/><rect x="692" y="1406" width="20" height="3" class="ml"/><rect x="692" y="1415" width="22" height="3" class="ml"/>
<rect x="690" y="1443" width="25" height="3" class="ml"/><rect x="692" y="1452" width="20" height="3" class="ml"/>
<rect x="684" y="1482" width="43" height="48" fill="#fff"/>
<rect x="690" y="1487" width="30" height="40" fill="url(#cm)"/>
<rect x="727" y="1347" width="362" height="268" fill="#dcdcdc"/>
<rect x="727" y="1347" width="362" height="6" fill="url(#tb)" opacity="0.8"/>
<rect x="730" y="1356" width="10" height="3" class="ml"/><rect x="745" y="1356" width="10" height="3" class="ml"/>
<rect x="743" y="1368" width="337" height="147" fill="#d2d2d2" stroke="#b0b0b0" stroke-width="0.8"/>
<rect x="805" y="1372" width="272" height="141" fill="#fff"/>
<path d="M843 1372V1513M918 1372V1513M957 1372V1513M995 1372V1513M1033 1372V1513M805 1393H1077M805 1422H1077M805 1452H1077M805 1480H1077" stroke="#9a9a9a" stroke-width="0.8"/>
<path d="M893 1372V1513" stroke="#666" stroke-width="1"/>
<path d="M805 1392H850L860 1394H875L880 1390H893" fill="none" stroke="#777" stroke-width="1.2"/>
<path d="M805 1440L815 1440L823 1437H855L865 1440L882 1446H893" fill="none" stroke="#777" stroke-width="1.2"/>
<rect x="748" y="1372" width="2" height="25" fill="#aaa"/><rect x="755" y="1410" width="2" height="20" fill="#aaa"/>
<rect x="768" y="1426" width="3" height="30" fill="url(#dt)"/>
<rect x="807" y="1513" width="270" height="7" fill="#d2d2d2"/>
<rect x="840" y="1515" width="6" height="3" class="ml"/><rect x="880" y="1515" width="6" height="3" class="ml"/><rect x="915" y="1515" width="6" height="3" class="ml"/><rect x="955" y="1515" width="6" height="3" class="ml"/><rect x="993" y="1515" width="6" height="3" class="ml"/><rect x="1032" y="1515" width="6" height="3" class="ml"/><rect x="1070" y="1515" width="6" height="3" class="ml"/>
<rect x="807" y="1521" width="270" height="7" fill="#fff" stroke="#bbb" stroke-width="0.6"/>
<text class="tm" x="752" y="1528">12:07:34</text>
<rect x="742" y="1537" width="271" height="58" fill="#fff" stroke="#9a9a9a" stroke-width="0.8"/>
<path d="M805 1537V1595M805 1546H1013" stroke="#9a9a9a" stroke-width="0.8"/>
<rect x="805" y="1537" width="208" height="9" fill="#e6e6e6"/>
<rect x="815" y="1540" width="14" height="3" class="ml"/><rect x="860" y="1540" width="20" height="3" class="ml"/><rect x="915" y="1540" width="18" height="3" class="ml"/><rect x="955" y="1540" width="18" height="3" class="ml"/><rect x="985" y="1540" width="20" height="3" class="ml"/>
<path d="M750 1551H790M750 1560H790M750 1569H790M750 1578H790M750 1587H790" stroke="#9ac09a" stroke-width="1"/>
<rect x="815" y="1549" width="12" height="25" fill="url(#cm)"/><rect x="843" y="1549" width="10" height="25" fill="url(#cm)"/><rect x="925" y="1549" width="10" height="25" fill="url(#cm)"/><rect x="963" y="1549" width="8" height="25" fill="url(#cm)"/>
<g fill="none" stroke="#8a8a8a" stroke-width="0.8"><rect x="1030" y="1539" width="48" height="9"/><rect x="1030" y="1553" width="48" height="9"/><rect x="1030" y="1567" width="48" height="9"/><rect x="1030" y="1582" width="48" height="8"/></g>
<rect x="1030" y="1596" width="48" height="12" fill="none" stroke="#444" stroke-width="1.3"/>
<rect x="1045" y="1542" width="10" height="3" class="ml"/><rect x="1040" y="1570" width="20" height="3" class="ml"/><rect x="1048" y="1585" width="12" height="3" class="ml"/><rect x="1045" y="1600" width="14" height="3" class="ml"/>
</g>

<!-- Connectors -->
<g id="connectors">
<ellipse cx="376" cy="335" rx="154" ry="12" class="con"/>
<path class="con" d="M222 343C195 440 160 590 8 673"/>
<path class="con" d="M535 339C580 440 610 520 680 570C760 625 880 635 1040 650C1180 662 1260 662 1292 677"/>
<path class="con" d="M641 319C760 315 810 300 830 220C850 165 885 147 967 147" marker-end="url(#ab)"/>
<path class="con" d="M641 324C740 328 790 340 830 400C860 450 890 485 958 497" marker-end="url(#ab)"/>
<path class="con" d="M127 723V840" marker-end="url(#as)"/>
<path class="con" d="M391 723V1252" marker-end="url(#as)"/>
<path class="con" d="M608 723V840" marker-end="url(#as)"/>
<path class="con" d="M847 723V1252" marker-end="url(#as)"/>
<path class="con" d="M1183 723V840" marker-end="url(#as)"/>
</g>
</svg>
